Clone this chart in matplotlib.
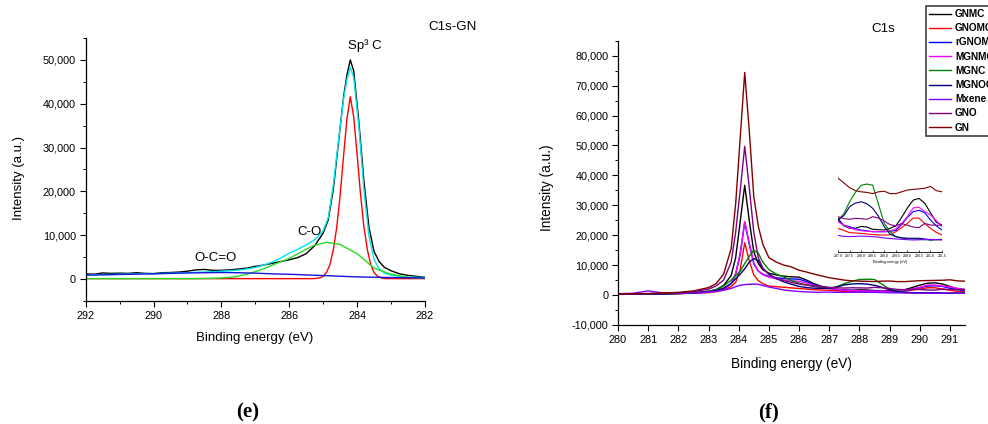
import matplotlib
matplotlib.use('Agg')
import matplotlib.pyplot as plt
from matplotlib.ticker import MultipleLocator, FuncFormatter

plt.rcParams['font.family'] = ['Liberation Sans', 'DejaVu Sans']

# ---- panel (e): C1s-GN fit ----
e_raw = [292, 291.75, 291.5, 291.25, 291, 290.75, 290.5, 290.25, 290, 289.75, 289.5, 289.25,
         289, 288.75, 288.5, 288.25, 288, 287.75, 287.5, 287.25, 287, 286.75, 286.5, 286.25,
         286, 285.75, 285.5, 285.25, 285, 284.85, 284.7, 284.55, 284.4, 284.3, 284.2, 284.1,
         283.95, 283.8, 283.65, 283.5, 283.35, 283.2, 283, 282.75, 282.5, 282.25, 282]
raw = [1200, 1100, 1400, 1300, 1350, 1300, 1450, 1300, 1250, 1450, 1500, 1600,
       1800, 2100, 2200, 2000, 2000, 2100, 2300, 2500, 2900, 3200, 3600, 4000,
       4400, 4900, 5800, 7600, 10500, 13500, 20500, 31000, 41500, 46500, 50000, 47500,
       36000, 22500, 11800, 6300, 4000, 2700, 1900, 1200, 850, 620, 400]
envelope = [950, 980, 1020, 1060, 1100, 1140, 1180, 1220, 1250, 1300, 1350, 1400,
            1450, 1550, 1620, 1700, 1800, 1900, 2050, 2300, 2650, 3200, 3900, 4800,
            5900, 6800, 7800, 9000, 11000, 14000, 21500, 31500, 41000, 45500, 48300, 46000,
            35000, 20500, 9800, 4500, 2300, 1400, 900, 600, 480, 400, 350]

e_sp2 = [292, 287, 286, 285.5, 285.3, 285.2, 285.1, 285.0, 284.9, 284.8, 284.7, 284.6, 284.5,
         284.4, 284.3, 284.2, 284.1, 284.0, 283.9, 283.8, 283.7, 283.6, 283.5, 283.4, 283.3,
         283.2, 283.1, 283.0, 282.5, 282]
sp2 = [100, 100, 100, 100, 100, 150, 300, 650, 1500, 3300, 6700, 11800, 19000,
       28000, 36500, 41600, 37000, 28500, 19500, 12000, 6800, 3400, 1500, 650, 300,
       150, 100, 100, 100, 100]

e_co = [292, 289, 288.5, 288, 287.6, 287.2, 286.8, 286.4, 286.0, 285.7, 285.3, 284.9, 284.5,
        284.0, 283.5, 283.0, 282.5, 282]
co = [100, 100, 130, 250, 500, 1200, 2200, 3500, 4700, 6000, 7600, 8400, 7900,
      5800, 2500, 1100, 400, 150]

e_bg = [292, 291, 290, 289, 288, 287.5, 287, 286.5, 286, 285.5, 285, 284.5, 284, 283.5, 283,
        282.5, 282]
bg = [900, 1050, 1200, 1400, 1500, 1450, 1350, 1200, 1100, 950, 800, 650, 500, 420, 350,
      300, 250]

# ---- panel (f): C1s overlay ----
energy = [280, 280.5, 281, 281.5, 282, 282.5, 283, 283.25, 283.5, 283.75, 283.9, 284.05,
          284.2, 284.35, 284.5, 284.65, 284.8, 285, 285.25, 285.5, 285.75, 286, 286.25, 286.5,
          286.75, 287, 287.25, 287.5, 287.75, 288, 288.25, 288.5, 288.75, 289, 289.25, 289.5,
          289.75, 290, 290.25, 290.5, 290.75, 291, 291.25, 291.5]

gnmc = [300, 350, 400, 500, 600, 850, 1300, 1800, 3200, 6500, 12500, 24500,
        36700, 25000, 14500, 10500, 8500, 7300, 6700, 6300, 6100, 6000, 5000, 3800,
        2900, 2430, 1800, 1600, 1600, 1750, 1700, 1510, 1480, 1450, 1590, 1800,
        2500, 3300, 3950, 4100, 3700, 2900, 2100, 1870]
gnomc = [300, 350, 400, 450, 500, 600, 800, 1100, 1700, 2800, 4300, 8500,
         17500, 11500, 6800, 4800, 3800, 3000, 2800, 2600, 2400, 2200, 2000, 1800,
         1700, 1590, 1420, 1230, 1200, 1170, 1120, 1070, 1030, 1030, 1050, 1310,
         1650, 2010, 2450, 2450, 2000, 1590, 1250, 1030]
rgnomc = [300, 350, 400, 450, 550, 700, 1000, 1400, 2000, 3800, 7000, 13500,
          24400, 17000, 10500, 8000, 7000, 6200, 5800, 5500, 5400, 5300, 4500, 3400,
          2700, 2290, 1850, 1730, 1550, 1450, 1380, 1310, 1310, 1310, 1330, 1420,
          1900, 2500, 2990, 3100, 2900, 2290, 1800, 1450]
mgnmc = [300, 350, 400, 450, 550, 700, 1000, 1400, 2000, 3900, 7200, 14000,
         24500, 17500, 10800, 8000, 6800, 6000, 5400, 5000, 4800, 4600, 4000, 3200,
         2600, 2150, 1850, 1650, 1470, 1400, 1350, 1310, 1310, 1310, 1350, 1550,
         2000, 2570, 3300, 3350, 3000, 2710, 2250, 1730]
mgnc = [300, 320, 350, 400, 500, 700, 1200, 1800, 3000, 5000, 6500, 8000,
        10500, 13000, 15000, 14000, 11000, 8500, 7000, 6000, 4800, 4000, 3400, 2900,
        2500, 2290, 2800, 3820, 4600, 5200, 5300, 5200, 3600, 2010, 1310, 895,
        770, 730, 700, 680, 640, 616, 640, 670]
mgnoc = [300, 320, 350, 400, 500, 700, 1100, 1500, 2300, 3800, 5500, 7000,
         8800, 11000, 12200, 11500, 9000, 7000, 5500, 4400, 3600, 2900, 2500, 2300,
         2250, 2290, 2650, 3400, 3700, 3820, 3650, 3270, 2600, 1730, 1100, 895,
         800, 760, 760, 760, 700, 616, 650, 650]
mxene = [450, 600, 1400, 700, 650, 800, 1000, 1300, 1600, 2200, 2800, 3300,
         3500, 3600, 3700, 3600, 3200, 2700, 2200, 1700, 1400, 1200, 1050, 950,
         950, 1000, 920, 900, 920, 950, 920, 895, 850, 780, 740, 700,
         670, 640, 616, 630, 650, 670, 640, 616]
gno = [300, 350, 450, 550, 750, 1100, 2000, 3000, 5000, 11000, 21000, 35000,
       49700, 36000, 21000, 12500, 9000, 6800, 5600, 4800, 4200, 3700, 3300, 3000,
       2750, 2570, 2400, 2350, 2430, 2400, 2350, 2570, 2450, 2200, 1900, 1800,
       2000, 1850, 1700, 1650, 2000, 1870, 1850, 1870]
gn = [400, 450, 550, 700, 900, 1400, 2500, 3800, 7000, 15500, 30500, 52500,
      74400, 55000, 33000, 23000, 17000, 12500, 11000, 10000, 9400, 8300, 7700, 7000,
      6400, 5800, 5400, 5000, 4750, 4650, 4600, 4500, 4650, 4700, 4500, 4500,
      4650, 4800, 4850, 4900, 4950, 5100, 4750, 4650]

series_names = ['GNMC', 'GNOMC', 'rGNOMC', 'MGNMC', 'MGNC', 'MGNOC', 'Mxene', 'GNO', 'GN']
series_data = [gnmc, gnomc, rgnomc, mgnmc, mgnc, mgnoc, mxene, gno, gn]
series_colors = ['#000000', '#ff0000', '#0000ff', '#ff00ff', '#008000', '#000080',
                 '#8000ff', '#800080', '#800000']

comma = FuncFormatter(lambda v, p: f'{v:,.0f}')


def style_axes(ax):
    for side in ['top', 'right']:
        ax.spines[side].set_visible(False)
    for side in ['left', 'bottom']:
        ax.spines[side].set_linewidth(0.9)
    ax.tick_params(which='major', direction='out', length=4, width=0.8, labelsize=7.8, pad=3)
    ax.tick_params(which='minor', direction='out', length=2, width=0.7)


fig = plt.figure(figsize=(9.88, 4.24), dpi=100)

# left panel
ax1 = fig.add_axes([0.0867, 0.2901, 0.3434, 0.6203])
ax1.plot(e_raw, raw, color='black', lw=1.0)
ax1.plot(e_raw, envelope, color='#00e8f0', lw=1.0)
ax1.plot(e_sp2, sp2, color='#ff0000', lw=1.0)
ax1.plot(e_co, co, color='#22dd22', lw=1.0)
ax1.plot(e_bg, bg, color='#1515e0', lw=1.0)
ax1.set_xlim(292, 282)
ax1.set_ylim(-5000, 55000)
ax1.xaxis.set_major_locator(MultipleLocator(2))
ax1.xaxis.set_minor_locator(MultipleLocator(1))
ax1.yaxis.set_major_locator(MultipleLocator(10000))
ax1.yaxis.set_minor_locator(MultipleLocator(5000))
ax1.yaxis.set_major_formatter(comma)
style_axes(ax1)
ax1.set_xlabel('Binding energy (eV)', fontsize=9.5)
ax1.set_ylabel('Intensity (a.u.)', fontsize=9.5)
ax1.xaxis.set_label_coords(0.4975, -0.118)
ax1.yaxis.set_label_coords(-0.179, 0.468)
ax1.text(283.76, 53200, 'Sp³ C', fontsize=9.5, ha='center', va='center')
ax1.text(285.40, 10700, 'C-O', fontsize=9.5, ha='center', va='center')
ax1.text(288.17, 4800, 'O-C=O', fontsize=9.5, ha='center', va='center')
fig.text(453 / 988, 1 - 27 / 424, 'C1s-GN', fontsize=9.6, ha='center', va='center')

# right panel
ax2 = fig.add_axes([0.6255, 0.2335, 0.3512, 0.6705])
for name, vals, col in zip(series_names, series_data, series_colors):
    ax2.plot(energy, vals, color=col, lw=1.0, label=name)
ax2.set_xlim(280, 291.5)
ax2.set_ylim(-10000, 85000)
ax2.xaxis.set_major_locator(MultipleLocator(1))
ax2.yaxis.set_major_locator(MultipleLocator(10000))
ax2.yaxis.set_minor_locator(MultipleLocator(5000))
ax2.yaxis.set_major_formatter(comma)
style_axes(ax2)
ax2.set_xlabel('Binding energy (eV)', fontsize=9.8)
ax2.set_ylabel('Intensity (a.u.)', fontsize=9.8)
ax2.xaxis.set_label_coords(0.5, -0.113)
ax2.yaxis.set_label_coords(-0.184, 0.484)
fig.text(883 / 988, 1 - 29 / 424, 'C1s', fontsize=9.6, ha='center', va='center')

# legend runs off the right edge, as in the source figure
leg = fig.legend(loc='upper left', bbox_to_anchor=(926 / 988, 1 - 6 / 424),
                 prop={'size': 7.2, 'weight': 'bold'}, fancybox=False, framealpha=1,
                 edgecolor='#404040', labelspacing=0.42, handlelength=2.2,
                 handletextpad=0.4, borderpad=0.3, borderaxespad=0)
leg.get_frame().set_linewidth(1.2)

# inset: zoom on 287-291.5 eV
axin = fig.add_axes([0.8482, 0.4057, 0.1053, 0.1816])
for vals, col in zip(series_data, series_colors):
    axin.plot(energy, vals, color=col, lw=0.8)
axin.set_xlim(287, 291.5)
axin.set_ylim(-390, 6060)
axin.set_xticks([287.0, 287.5, 288.0, 288.5, 289.0, 289.5, 290.0, 290.5, 291.0, 291.5])
axin.xaxis.set_major_formatter(FuncFormatter(lambda v, p: f'{v:.1f}'))
axin.set_yticks([])
for side in ['top', 'right', 'left']:
    axin.spines[side].set_visible(False)
axin.spines['bottom'].set_linewidth(0.6)
axin.tick_params(axis='x', direction='in', length=1.5, width=0.5, labelsize=2.5, pad=1.5)
axin.set_xlabel('Binding energy (eV)', fontsize=2.8, labelpad=1.5)
axin.patch.set_alpha(0)

fig.text(248 / 988, 1 - 412 / 424, '(e)', fontsize=15, fontweight='bold',
         family=['Liberation Serif', 'DejaVu Serif'], ha='center', va='center')
fig.text(768 / 988, 1 - 412 / 424, '(f)', fontsize=15, fontweight='bold',
         family=['Liberation Serif', 'DejaVu Serif'], ha='center', va='center')

fig.savefig('out.png', dpi=100)
